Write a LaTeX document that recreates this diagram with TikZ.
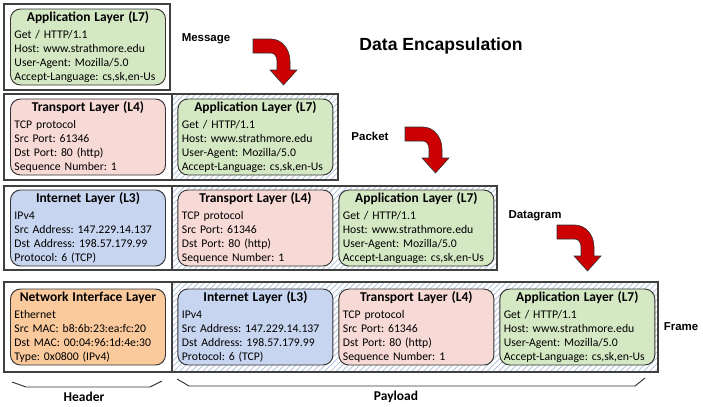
\documentclass[tikz,border=0pt]{standalone}
\usepackage{fontspec}
\setmainfont{Carlito}
\newfontfamily\arialfont{Liberation Sans}
\usetikzlibrary{positioning, patterns.meta}

\definecolor{appgreen}{RGB}{213,232,196}
\definecolor{tranpink}{RGB}{247,218,214}
\definecolor{netblue}{RGB}{200,213,240}
\definecolor{ethorange}{RGB}{250,201,156}
\definecolor{arrowred}{RGB}{204,0,0}
\definecolor{hatchblue}{RGB}{170,188,216}

\newcommand\layertitle{\fontsize{11.5}{14}\selectfont\bfseries}
\frenchspacing

\tikzset{
  bendarrow/.pic={
    \filldraw[fill=arrowred, draw=black!80, line width=0.5pt]
      (0,0) -- (18,0) arc[start angle=-90, end angle=0, x radius=19, y radius=22]
      -- (37,31) -- (44,31) -- (30.5,46) -- (17,31) -- (24,31) -- (24,22)
      arc[start angle=0, end angle=-90, x radius=6, y radius=8] -- (0,14) -- cycle;
  }
}

\begin{document}
\begin{tikzpicture}[x=0.3mm, y=-0.3mm,
    layer/.style={draw=black!80, line width=0.8pt, rounded corners=3mm, minimum width=46.5mm, minimum height=22.8mm, text width=44.1mm, inner xsep=1.2mm, inner ysep=0.5mm, align=left, font=\fontsize{10}{12}\selectfont\frenchspacing},
    app/.style={layer, fill=appgreen},
    tran/.style={layer, fill=tranpink},
    inet/.style={layer, fill=netblue},
    eth/.style={layer, fill=ethorange},
    frame/.style={draw=black!75, line width=1pt},
    hatched/.style={pattern={Lines[angle=45, distance=3.5pt, line width=0.6pt]}, pattern color=hatchblue},
    label/.style={font=\arialfont\fontsize{9.8}{12}\selectfont\bfseries},
    brace/.style={draw=black!80, line width=0.8pt}]
\useasboundingbox (0,0) rectangle (703,406);

% outer frames, payload part hatched
\draw[frame] (4,4) rectangle (170,90);
\fill[hatched] (172,94) rectangle (338,180);
\draw[frame] (4,94) rectangle (338,180) (172,94) -- (172,180);
\fill[hatched] (172,186) rectangle (497,270);
\draw[frame] (4,186) rectangle (497,270) (172,186) -- (172,270);
\fill[hatched] (172,282) rectangle (658,372);
\draw[frame] (4,282) rectangle (658,372) (172,282) -- (172,372);

% message
\node[app] (msg-app) at (88,47) {{\centering\layertitle Application Layer (L7)\par}\vspace{2.5pt}Get / HTTP/1.1\\Host: www.strathmore.edu\\User-Agent: Mozilla/5.0\\Accept-Language: cs,sk,en-Us};

% packet
\node[tran] (pkt-tran) at (88,137) {{\centering\layertitle Transport Layer (L4)\par}\vspace{2.5pt}TCP protocol\\Src Port: 61346\\Dst Port: 80 (http)\\Sequence Number: 1};
\node[app, right=3.45mm of pkt-tran] (pkt-app) {{\centering\layertitle Application Layer (L7)\par}\vspace{2.5pt}Get / HTTP/1.1\\Host: www.strathmore.edu\\User-Agent: Mozilla/5.0\\Accept-Language: cs,sk,en-Us};

% datagram
\node[inet] (dg-inet) at (88,228) {{\centering\layertitle Internet Layer (L3)\par}\vspace{2.5pt}IPv4\\Src Address: 147.229.14.137\\Dst Address: 198.57.179.99\\Protocol: 6 (TCP)};
\node[tran, right=3.45mm of dg-inet] (dg-tran) {{\centering\layertitle Transport Layer (L4)\par}\vspace{2.5pt}TCP protocol\\Src Port: 61346\\Dst Port: 80 (http)\\Sequence Number: 1};
\node[app, right=1.5mm of dg-tran] (dg-app) {{\centering\layertitle Application Layer (L7)\par}\vspace{2.5pt}Get / HTTP/1.1\\Host: www.strathmore.edu\\User-Agent: Mozilla/5.0\\Accept-Language: cs,sk,en-Us};

% frame
\node[eth] (fr-eth) at (88,327) {{\centering\layertitle Network Interface Layer\par}\vspace{2.5pt}Ethernet\\Src MAC: b8:6b:23:ea:fc:20\\Dst MAC: 00:04:96:1d:4e:30\\Type: 0x0800 (IPv4)};
\node[inet, right=3.45mm of fr-eth] (fr-inet) {{\centering\layertitle Internet Layer (L3)\par}\vspace{2.5pt}IPv4\\Src Address: 147.229.14.137\\Dst Address: 198.57.179.99\\Protocol: 6 (TCP)};
\node[tran, right=1.5mm of fr-inet] (fr-tran) {{\centering\layertitle Transport Layer (L4)\par}\vspace{2.5pt}TCP protocol\\Src Port: 61346\\Dst Port: 80 (http)\\Sequence Number: 1};
\node[app, right=1.5mm of fr-tran] (fr-app) {{\centering\layertitle Application Layer (L7)\par}\vspace{2.5pt}Get / HTTP/1.1\\Host: www.strathmore.edu\\User-Agent: Mozilla/5.0\\Accept-Language: cs,sk,en-Us};

% names and arrows
\node[font=\arialfont\fontsize{15}{18}\selectfont\bfseries] (title) at (441,46) {Data Encapsulation};
\node[label] (lbl-msg) at (206,39) {Message};
\node[label] (lbl-pkt) at (370,136) {Packet};
\node[label] (lbl-dg) at (535,216) {Datagram};
\node[label] (lbl-fr) at (681,327) {Frame};
\pic at (253,39) {bendarrow};
\pic at (405,127) {bendarrow};
\pic at (557,225) {bendarrow};

% header / payload
\draw[brace] (12,382) -- (26,387) -- (150,387) -- (162,381);
\draw[brace] (177,379) -- (189,386) -- (635,386) -- (645,378);
\node[font=\layertitle] (hdr) at (84,397) {Header};
\node[font=\layertitle] (pld) at (396,397) {Payload};
\end{tikzpicture}
\end{document}
